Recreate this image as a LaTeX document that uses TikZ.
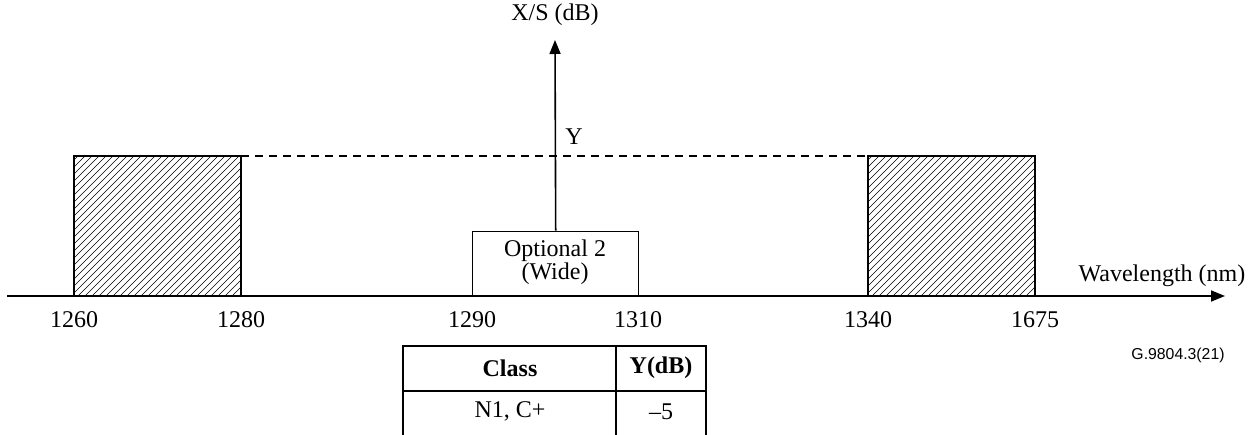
\documentclass[tikz,border=0pt]{standalone}
\usepackage{fontspec}
\setmainfont{Liberation Serif}
\newfontfamily\arialfont{Liberation Sans}
\usetikzlibrary{arrows.meta}
\begin{document}
\begin{tikzpicture}[x=1pt,y=-1pt,
  lbl/.style={inner sep=0pt,font=\fontsize{24}{26}\selectfont},
  axisline/.style={line width=1.6pt},
  boxline/.style={line width=1.4pt},
  hatch/.style={line width=0.6pt},
  ]
\useasboundingbox (0,0) rectangle (1255,435);
% axes
\coordinate (xs) at (7,296);
\coordinate (xe) at (1225,296);
\draw[axisline,-{Triangle[length=14pt,width=11pt]}] (xs) -- (xe);
% hatched boxes
\foreach \a/\b/\n in {74/241/lbox,868/1035/rbox}{
  \begin{scope}
    \clip (\a,156) rectangle (\b,296);
    \foreach \k in {-150,-143,...,180}{
      \draw[hatch] (\a+\k,296) -- (\a+\k+140,156);
    }
  \end{scope}
  \draw[boxline] (\a,296) rectangle (\b,156);
  \coordinate (\n) at (\a,156);
}
\draw[boxline,dashed,dash pattern=on 8pt off 6pt] (241,156) -- (868,156);
% optional box
\node[draw,boxline,minimum width=166pt,minimum height=64pt,inner sep=0pt,anchor=south west] (opt) at (472,296) {};
\node[lbl,align=center] (opttxt) at (555,262) {Optional 2\\[-3pt](Wide)};
\node[lbl] (ylab) at (555,15) {X/S (dB)};
\coordinate (ytip) at (555,40);
\draw[axisline,-{Triangle[length=14pt,width=11pt]}] (opt.north) -- (ytip);
\node[lbl] (yy) at (574,137) {Y};
\node[lbl] (wl) at (1162,276) {Wavelength (nm)};
% ticks
\foreach \x/\t in {74/1260,241/1280,472/1290,638/1310,868/1340,1035/1675}{
  \node[lbl] (t\t) at (\x,320) {\t};
}
% table
\draw[boxline] (403,435) -- (403,346) -- (706,346) -- (706,435);
\draw[boxline] (616,346) -- (616,435);
\draw[boxline] (403,391) -- (706,391);
\node[lbl,font=\fontsize{24}{26}\selectfont\bfseries] (cls) at (510,368) {Class};
\node[lbl,font=\fontsize{24}{26}\selectfont\bfseries] (ydb) at (661,368) {Y(dB)};
\node[lbl] (n1) at (510,411) {N1, C+};
\node[lbl] (m5) at (661,412) {–5};
\node[inner sep=0pt,font=\arialfont\fontsize{15.8}{17}\selectfont] (fig) at (1178,355) {G.9804.3(21)};
\end{tikzpicture}
\end{document}
